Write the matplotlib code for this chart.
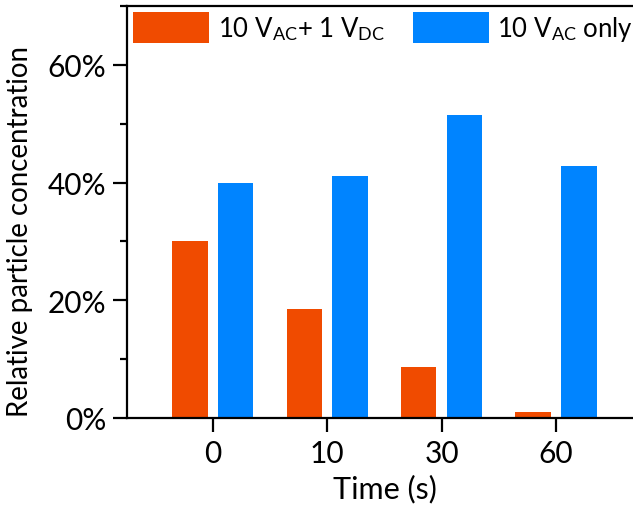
import matplotlib
matplotlib.use("Agg")
import matplotlib.pyplot as plt
from matplotlib.ticker import MultipleLocator, FuncFormatter
import numpy as np

# Data
times = ["0", "10", "30", "60"]
ac_dc = [30.0, 18.5, 8.6, 1.1]      # 10 V_AC + 1 V_DC
ac_only = [40.0, 41.2, 51.4, 42.8]  # 10 V_AC only
series_labels = [r"10 V$_{\mathrm{AC}}$+ 1 V$_{\mathrm{DC}}$",
                 r"10 V$_{\mathrm{AC}}$ only"]
colors = ["#F04B00", "#0084FF"]

plt.rcParams["font.family"] = ["Lato", "DejaVu Sans"]
plt.rcParams["mathtext.fontset"] = "custom"
plt.rcParams["mathtext.rm"] = "Lato"
plt.rcParams["mathtext.it"] = "Lato:italic"
plt.rcParams["mathtext.bf"] = "Lato:bold"

fs_legend = 18.5
fs_tick = 21.5
fs_xlabel = 22
fs_ylabel = 19.9

fig = plt.figure(figsize=(6.33, 5.06), dpi=100)
ax = fig.add_axes([127 / 633, 1 - 419 / 506, (643 - 127) / 633, (419 - 7) / 506])

x = np.arange(len(times))
w = 0.31
off = 0.2
ax.bar(x - off, ac_dc, w, color=colors[0], label=series_labels[0])
ax.bar(x + off, ac_only, w, color=colors[1], label=series_labels[1])

ax.set_xlim(-0.75, 3.76)
ax.set_ylim(0, 70)
ax.set_xticks(x)
ax.set_xticklabels(times)
ax.yaxis.set_major_locator(MultipleLocator(20))
ax.yaxis.set_minor_locator(MultipleLocator(10))
ax.yaxis.set_major_formatter(FuncFormatter(lambda v, p: f"{v:.0f}%"))

lw = 1.6
for side in ["left", "bottom", "top"]:
    ax.spines[side].set_linewidth(lw)
ax.spines["right"].set_visible(False)

ax.tick_params(axis="both", which="major", direction="out", length=10,
               width=lw, labelsize=fs_tick, pad=5)
ax.tick_params(axis="y", which="minor", direction="out", length=5, width=lw)
ax.tick_params(axis="x", which="minor", bottom=False)

ax.set_xlabel("Time (s)", fontsize=fs_xlabel, labelpad=5)
ax.set_ylabel("Relative particle concentration", fontsize=fs_ylabel)
ax.yaxis.set_label_coords(-0.182, 0.455)

ax.legend(loc="upper left", bbox_to_anchor=(0.0, 1.0), ncol=2, frameon=False,
          fontsize=fs_legend, handlelength=2.95, handleheight=1.45, handletextpad=0.33,
          columnspacing=1.1, borderaxespad=0.25, borderpad=0.0)

fig.savefig("out.png", dpi=100)
